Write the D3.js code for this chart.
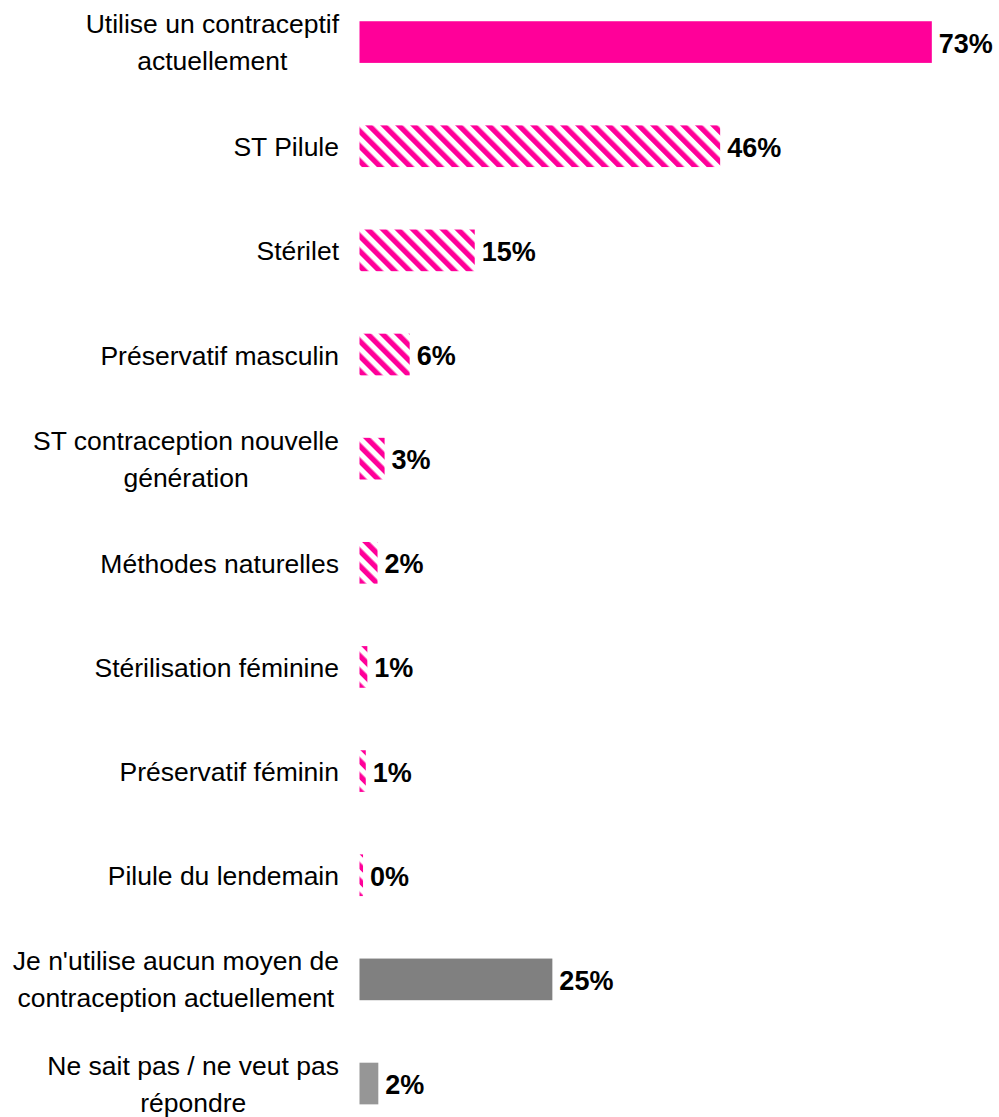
<!DOCTYPE html>
<html>
<head>
<meta charset="utf-8">
<script src="https://cdn.jsdelivr.net/npm/d3@7"></script>
<style>
  html, body { margin: 0; padding: 0; background: #fff; }
  svg { display: block; }
  text { font-family: "Liberation Sans", Arial, sans-serif; }
</style>
</head>
<body>
<svg id="chart" width="999" height="1117"></svg>
<script>
// ---- data ----
const categories = [
  "Utilise un contraceptif\nactuellement",
  "ST Pilule",
  "Stérilet",
  "Préservatif masculin",
  "ST contraception nouvelle\ngénération",
  "Méthodes naturelles",
  "Stérilisation féminine",
  "Préservatif féminin",
  "Pilule du lendemain",
  "Je n'utilise aucun moyen de\ncontraception actuellement",
  "Ne sait pas / ne veut pas\nrépondre"
];
const values = [73, 46, 14.7, 6.4, 3.2, 2.3, 1.0, 0.8, 0.45, 24.6, 2.4];
const valueLabels = ["73%", "46%", "15%", "6%", "3%", "2%", "1%", "1%", "0%", "25%", "2%"];
const groups = ["total", "detail", "detail", "detail", "detail", "detail", "detail", "detail", "detail", "none", "unknown"];

// ---- drawing ----
const svg = d3.select("#chart");

const x = d3.scaleLinear().domain([0, 100]).range([359.5, 359.5 + 784]);
const y = d3.scaleBand()
  .domain(categories)
  .range([-10, 1135.6])
  .paddingInner(0.6)
  .paddingOuter(0.3);

const defs = svg.append("defs");
const pat = defs.append("pattern")
  .attr("id", "hatch")
  .attr("patternUnits", "userSpaceOnUse")
  .attr("width", 10.6)
  .attr("height", 10.6)
  .attr("patternTransform", "rotate(-45)");
pat.append("rect").attr("width", 10.6).attr("height", 10.6).attr("fill", "#fff");
pat.append("rect").attr("width", 5.3).attr("height", 10.6).attr("fill", "#FF0099");

const fills = {
  total: "#FF0099",
  detail: "url(#hatch)",
  none: "#808080",
  unknown: "#969696"
};

const rows = categories.map((c, i) => ({ c, v: values[i], lab: valueLabels[i], g: groups[i] }));

svg.append("g").selectAll("rect")
  .data(rows)
  .join("rect")
  .attr("x", x(0))
  .attr("y", d => y(d.c))
  .attr("width", d => x(d.v) - x(0))
  .attr("height", y.bandwidth())
  .attr("fill", d => fills[d.g]);

// value labels
svg.append("g").selectAll("text")
  .data(rows)
  .join("text")
  .attr("x", d => x(d.v) + 7)
  .attr("y", d => y(d.c) + y.bandwidth() / 2 + 10.5)
  .attr("font-size", 27)
  .attr("font-weight", "bold")
  .attr("fill", "#000")
  .text(d => d.lab);

// category labels (multi-line, centered block, right-aligned)
const fs = 26.5, lh = 37;
const labG = svg.append("g");
rows.forEach(d => {
  const lines = d.c.split("\n");
  const cy = y(d.c) + y.bandwidth() / 2;
  const t = labG.append("text")
    .attr("font-size", fs)
    .attr("fill", "#000")
    .attr("text-anchor", "middle");
  lines.forEach((ln, k) => {
    t.append("tspan")
      .attr("y", cy + (lines.length > 1 ? 9.5 : 10) + (k - (lines.length - 1) / 2) * lh)
      .text(ln);
  });
  const widths = [];
  t.selectAll("tspan").each(function () { widths.push(this.getComputedTextLength()); });
  const maxW = d3.max(widths);
  const cx = 339 - maxW / 2;
  t.selectAll("tspan").attr("x", cx);
});
</script>
</body>
</html>
